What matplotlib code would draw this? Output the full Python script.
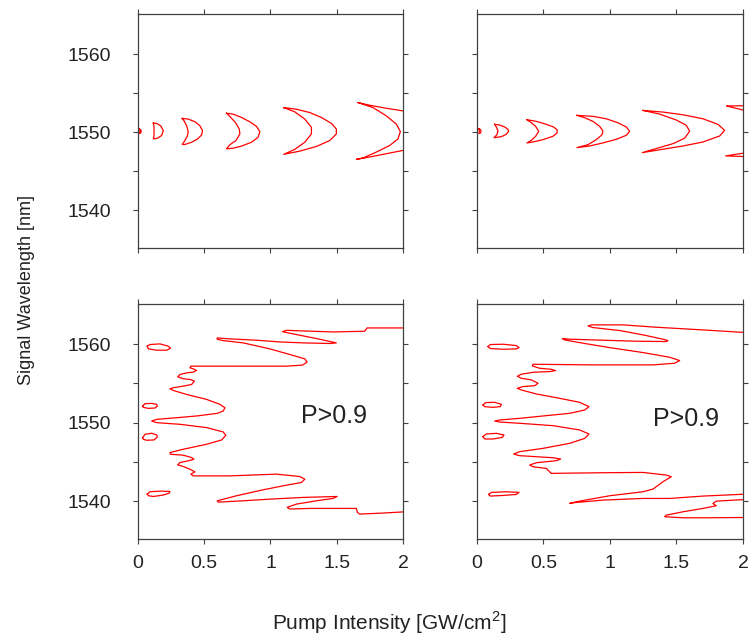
import matplotlib
matplotlib.use("Agg")
import matplotlib.pyplot as plt
import numpy as np

plt.rcParams['font.family'] = ['Liberation Sans', 'DejaVu Sans']
plt.rcParams['mathtext.fontset'] = 'custom'
plt.rcParams['mathtext.rm'] = 'Liberation Sans'

# P>0.9 contour outlines: (pump intensity, wavelength)
# top-left panel
tl_c1 = [(0.010, 1550.45), (0.022, 1550.3), (0.024, 1550.1), (0.020, 1549.9), (0.010, 1549.85), (0.015, 1550.15), (0.010, 1550.45)]
tl_c2 = [(0.116, 1551.18), (0.141, 1551.14), (0.171, 1550.84), (0.191, 1550.21), (0.178, 1549.58), (0.146, 1549.24),
         (0.116, 1549.15), (0.121, 1549.6), (0.121, 1550.7), (0.116, 1551.18)]
tl_c3 = [(0.334, 1551.77), (0.379, 1551.69), (0.430, 1551.35), (0.467, 1550.84), (0.487, 1550.21), (0.480, 1549.66),
         (0.450, 1549.15), (0.405, 1548.73), (0.354, 1548.44), (0.334, 1548.44), (0.349, 1548.82), (0.372, 1549.49),
         (0.379, 1550.09), (0.367, 1550.84), (0.347, 1551.48), (0.334, 1551.77)]
tl_c4 = [(0.668, 1552.44), (0.719, 1552.32), (0.781, 1551.90), (0.844, 1551.35), (0.894, 1550.76), (0.920, 1550.09),
         (0.907, 1549.37), (0.857, 1548.73), (0.781, 1548.23), (0.719, 1547.97), (0.668, 1547.89), (0.693, 1548.40),
         (0.739, 1548.94), (0.769, 1549.79), (0.764, 1550.42), (0.739, 1551.18), (0.693, 1552.03), (0.668, 1552.44)]
tl_c5 = [(1.100, 1553.16), (1.196, 1552.95), (1.296, 1552.53), (1.384, 1551.90), (1.460, 1551.14), (1.497, 1550.42),
         (1.497, 1549.79), (1.447, 1548.94), (1.347, 1548.19), (1.221, 1547.59), (1.100, 1547.18), (1.183, 1547.81),
         (1.259, 1548.73), (1.309, 1549.79), (1.309, 1550.63), (1.259, 1551.69), (1.183, 1552.62), (1.100, 1553.16)]
tl_c6 = [(1.661, 1553.80), (1.749, 1553.46), (1.874, 1553.08), (2.0, 1552.74), (2.1, 1552.3), (2.15, 1550.1), (2.1, 1548.0),
         (2.0, 1547.68), (1.874, 1547.26), (1.749, 1546.84), (1.648, 1546.54), (1.698, 1546.71), (1.799, 1547.47),
         (1.899, 1548.31), (1.962, 1549.15), (1.980, 1550.09), (1.950, 1551.05), (1.874, 1552.11), (1.774, 1553.16),
         (1.661, 1553.80)]

# top-right panel
tr_c1 = [(0.014, 1550.45), (0.026, 1550.35), (0.031, 1550.15), (0.026, 1549.9), (0.014, 1549.85), (0.018, 1550.15), (0.014, 1550.45)]
tr_c2 = [(0.133, 1551.02), (0.170, 1550.93), (0.208, 1550.68), (0.233, 1550.38), (0.238, 1550.13), (0.221, 1549.75),
         (0.183, 1549.44), (0.128, 1549.31), (0.150, 1549.69), (0.158, 1550.17), (0.145, 1550.68), (0.133, 1551.02)]
tr_c3 = [(0.376, 1551.61), (0.446, 1551.40), (0.521, 1551.02), (0.576, 1550.68), (0.602, 1550.33), (0.602, 1549.91),
         (0.571, 1549.49), (0.496, 1549.06), (0.421, 1548.76), (0.376, 1548.64), (0.409, 1548.98), (0.441, 1549.49),
         (0.464, 1550.13), (0.441, 1550.76), (0.409, 1551.22), (0.376, 1551.61)]
tr_c4 = [(0.752, 1552.17), (0.872, 1552.04), (0.972, 1551.73), (1.060, 1551.22), (1.123, 1550.68), (1.148, 1550.13),
         (1.123, 1549.62), (1.048, 1549.11), (0.947, 1548.64), (0.847, 1548.25), (0.752, 1548.04), (0.835, 1548.42),
         (0.897, 1549.06), (0.940, 1549.69), (0.947, 1550.17), (0.922, 1550.76), (0.872, 1551.40), (0.810, 1551.86),
         (0.752, 1552.17)]
tr_c5 = [(1.248, 1552.80), (1.398, 1552.59), (1.549, 1552.24), (1.699, 1551.73), (1.812, 1551.02), (1.862, 1550.25),
         (1.825, 1549.53), (1.699, 1548.76), (1.549, 1548.25), (1.398, 1547.83), (1.243, 1547.40), (1.348, 1547.92),
         (1.474, 1548.55), (1.561, 1549.24), (1.599, 1550.13), (1.574, 1550.89), (1.499, 1551.57), (1.373, 1552.33),
         (1.248, 1552.80)]
tr_c6 = [(1.880, 1553.36), (2.0, 1553.4), (2.2, 1553.0), (2.3, 1550.2), (2.2, 1547.2), (2.0, 1546.9), (1.870, 1546.98),
         (2.0, 1547.32), (2.1, 1548.5), (2.15, 1550.2), (2.1, 1551.8), (2.0, 1552.85), (1.880, 1553.36)]

# bottom-left panel
bl_e1 = [(0.070, 1559.73), (0.090, 1559.94), (0.166, 1560.02), (0.229, 1559.73), (0.246, 1559.47), (0.216, 1559.22),
         (0.141, 1559.22), (0.078, 1559.39), (0.070, 1559.73)]
bl_e2 = [(0.035, 1552.11), (0.053, 1552.41), (0.103, 1552.45), (0.141, 1552.33), (0.146, 1552.11), (0.128, 1551.86),
         (0.078, 1551.82), (0.040, 1551.95), (0.035, 1552.11)]
bl_e3 = [(0.035, 1548.10), (0.053, 1548.52), (0.103, 1548.65), (0.141, 1548.44), (0.146, 1548.18), (0.121, 1547.80),
         (0.065, 1547.76), (0.040, 1547.89), (0.035, 1548.10)]
bl_e4 = [(0.070, 1540.91), (0.090, 1541.21), (0.166, 1541.29), (0.241, 1541.25), (0.236, 1541.04), (0.191, 1540.79),
         (0.116, 1540.61), (0.078, 1540.70), (0.070, 1540.91)]
bl_main = [(2.025, 1562.05), (1.729, 1562.05), (1.711, 1561.63), (1.472, 1561.54), (1.246, 1561.67), (1.121, 1561.75),
           (1.090, 1561.58), (1.171, 1561.29), (1.347, 1560.70), (1.497, 1560.15), (1.447, 1560.07), (1.246, 1560.15),
           (1.070, 1560.27), (0.894, 1560.49), (0.693, 1560.66), (0.598, 1560.78), (0.598, 1560.61), (0.643, 1560.44),
           (0.794, 1560.15), (0.995, 1559.39), (1.146, 1558.67), (1.259, 1558.12), (1.276, 1557.70), (1.241, 1557.32),
           (1.121, 1557.19), (0.894, 1557.19), (0.693, 1557.19), (0.442, 1557.19), (0.399, 1557.19), (0.392, 1556.98),
           (0.417, 1556.85), (0.442, 1556.64), (0.417, 1556.43), (0.367, 1556.34), (0.317, 1556.13), (0.299, 1555.84),
           (0.342, 1555.58), (0.392, 1555.50), (0.425, 1555.29), (0.405, 1554.86), (0.342, 1554.65), (0.266, 1554.44),
           (0.241, 1554.31), (0.266, 1554.10), (0.367, 1553.59), (0.518, 1552.96), (0.618, 1552.33), (0.656, 1551.90),
           (0.643, 1551.48), (0.598, 1551.18), (0.442, 1550.85), (0.291, 1550.63), (0.141, 1550.42), (0.103, 1550.21),
           (0.141, 1550.00), (0.317, 1549.79), (0.518, 1549.37), (0.643, 1548.82), (0.663, 1548.39), (0.631, 1547.80),
           (0.518, 1547.25), (0.342, 1546.62), (0.241, 1546.19), (0.246, 1545.98), (0.342, 1545.86), (0.405, 1545.56),
           (0.422, 1545.35), (0.379, 1545.14), (0.317, 1544.93), (0.299, 1544.63), (0.342, 1544.42), (0.392, 1544.08),
           (0.430, 1543.74), (0.399, 1543.45), (0.417, 1543.23), (0.693, 1543.23), (1.045, 1543.45), (1.221, 1543.15),
           (1.259, 1542.81), (1.234, 1542.39), (1.121, 1542.05), (0.945, 1541.46), (0.744, 1540.70), (0.598, 1540.06),
           (0.606, 1539.89), (0.794, 1540.06), (0.995, 1540.27), (1.246, 1540.49), (1.503, 1540.61), (1.472, 1540.36),
           (1.347, 1540.06), (1.196, 1539.64), (1.126, 1539.22), (1.146, 1539.01), (1.296, 1539.09), (1.497, 1539.09),
           (1.648, 1539.09), (1.656, 1538.58), (1.673, 1538.37), (1.849, 1538.50), (2.025, 1538.67)]

# bottom-right panel
br_e1 = [(0.083, 1559.68), (0.100, 1559.94), (0.195, 1559.98), (0.296, 1559.81), (0.316, 1559.55), (0.296, 1559.38),
         (0.195, 1559.34), (0.100, 1559.43), (0.083, 1559.68)]
br_e2 = [(0.045, 1552.25), (0.065, 1552.55), (0.133, 1552.59), (0.183, 1552.34), (0.175, 1552.04), (0.120, 1551.95),
         (0.058, 1552.04), (0.045, 1552.25)]
br_e3 = [(0.045, 1548.22), (0.070, 1548.56), (0.145, 1548.64), (0.203, 1548.43), (0.190, 1548.13), (0.120, 1547.92),
         (0.058, 1547.92), (0.045, 1548.22)]
br_e4 = [(0.088, 1540.87), (0.108, 1541.13), (0.221, 1541.21), (0.316, 1541.13), (0.296, 1540.87), (0.195, 1540.74),
         (0.100, 1540.66), (0.088, 1540.87)]
br_main = [(2.025, 1561.46), (1.699, 1561.80), (1.348, 1562.14), (1.098, 1562.44), (0.860, 1562.44), (0.835, 1562.31),
           (0.872, 1562.10), (1.073, 1561.72), (1.248, 1561.17), (1.398, 1560.62), (1.436, 1560.45), (1.424, 1560.32),
           (1.198, 1560.36), (0.947, 1560.49), (0.697, 1560.62), (0.642, 1560.70), (0.659, 1560.53), (0.797, 1560.11),
           (0.997, 1559.55), (1.248, 1558.92), (1.449, 1558.32), (1.524, 1557.90), (1.486, 1557.56), (1.323, 1557.35),
           (1.073, 1557.35), (0.872, 1557.35), (0.647, 1557.39), (0.421, 1557.43), (0.416, 1557.22), (0.471, 1556.92),
           (0.559, 1556.79), (0.591, 1556.62), (0.546, 1556.50), (0.421, 1556.41), (0.333, 1556.16), (0.303, 1555.90),
           (0.333, 1555.65), (0.409, 1555.44), (0.459, 1555.01), (0.434, 1554.71), (0.346, 1554.59), (0.303, 1554.37),
           (0.333, 1554.16), (0.446, 1553.65), (0.596, 1553.18), (0.772, 1552.59), (0.842, 1552.04), (0.810, 1551.61),
           (0.697, 1551.19), (0.496, 1550.85), (0.321, 1550.55), (0.170, 1550.34), (0.133, 1550.21), (0.170, 1550.08),
           (0.321, 1549.92), (0.571, 1549.62), (0.772, 1549.07), (0.842, 1548.56), (0.810, 1548.00), (0.697, 1547.37),
           (0.496, 1546.73), (0.321, 1546.31), (0.276, 1546.01), (0.321, 1545.80), (0.446, 1545.67), (0.571, 1545.54),
           (0.629, 1545.37), (0.596, 1545.16), (0.446, 1544.90), (0.396, 1544.61), (0.421, 1544.39), (0.521, 1544.18),
           (0.546, 1543.76), (0.559, 1543.55), (0.947, 1543.63), (1.248, 1543.67), (1.424, 1543.33), (1.461, 1543.12),
           (1.398, 1542.48), (1.323, 1541.55), (1.248, 1541.21), (0.997, 1540.70), (0.747, 1539.94), (0.697, 1539.72),
           (0.722, 1539.81), (0.947, 1540.15), (1.248, 1540.36), (1.449, 1540.36), (1.699, 1540.66), (2.025, 1540.91)]
br_tail = [(2.025, 1540.23), (1.799, 1540.02), (1.774, 1539.72), (1.799, 1539.43), (1.699, 1539.09), (1.549, 1538.66),
           (1.424, 1538.24), (1.411, 1538.03), (1.549, 1537.90), (1.749, 1537.90), (2.025, 1537.94)]

x_ticks = [0, 0.5, 1, 1.5, 2]
x_ticklabels = ['0', '0.5', '1', '1.5', '2']
y_ticks = [1540, 1550, 1560]
y_ticklabels = ['1540', '1550', '1560']
label_text = 'P>0.9'

panels = {
    'tl': [tl_c1, tl_c2, tl_c3, tl_c4, tl_c5, tl_c6],
    'tr': [tr_c1, tr_c2, tr_c3, tr_c4, tr_c5, tr_c6],
    'bl': [bl_e1, bl_e2, bl_e3, bl_e4, bl_main],
    'br': [br_e1, br_e2, br_e3, br_e4, br_main, br_tail],
}

fig = plt.figure(figsize=(7.52, 6.39), dpi=100)
rects = {
    'tl': [0.1835, 0.612, 0.3524, 0.3656],
    'tr': [0.6343, 0.612, 0.3537, 0.3656],
    'bl': [0.1835, 0.1565, 0.3524, 0.3678],
    'br': [0.6343, 0.1565, 0.3537, 0.3678],
}
spine_col = '#404040'

for key, paths in panels.items():
    ax = fig.add_axes(rects[key])
    for p in paths:
        arr = np.array(p)
        ax.plot(arr[:, 0], arr[:, 1], color='#ff0000', lw=0.9)
    ax.set_xlim(0, 2)
    ax.set_ylim(1535.2, 1565.1)
    ax.set_xticks(x_ticks)
    ax.set_xticklabels(x_ticklabels)
    ax.set_yticks(y_ticks)
    ax.set_yticklabels(y_ticklabels)
    ax.set_yticks([1545, 1555], minor=True)
    for s in ax.spines.values():
        s.set_color(spine_col)
        s.set_linewidth(0.9)
    ax.tick_params(which='both', direction='out', length=3.5, width=0.8, color=spine_col,
                   top=True, right=True, labelsize=14, labelcolor='#222222')
    ax.tick_params(axis='y', pad=16)
    ax.tick_params(axis='x', pad=8)
    if key in ('tl', 'tr'):
        ax.tick_params(labelbottom=False)
    if key in ('tr', 'br'):
        ax.tick_params(labelleft=False)
    if key == 'bl':
        ax.text(1.477, 1550.9, label_text, fontsize=18, ha='center', va='center', color='#222222')
    if key == 'br':
        ax.text(1.57, 1550.45, label_text, fontsize=18, ha='center', va='center', color='#222222')

fig.text(0.035, 0.546, 'Signal Wavelength [nm]', rotation=90, fontsize=13, ha='center', va='center', color='#222222')
fig.text(0.517, 0.014, r'Pump Intensity [GW/cm$^{\mathregular{2}}$]', fontsize=15, ha='center', va='baseline',
         color='#222222')

plt.savefig('out.png', dpi=100)
